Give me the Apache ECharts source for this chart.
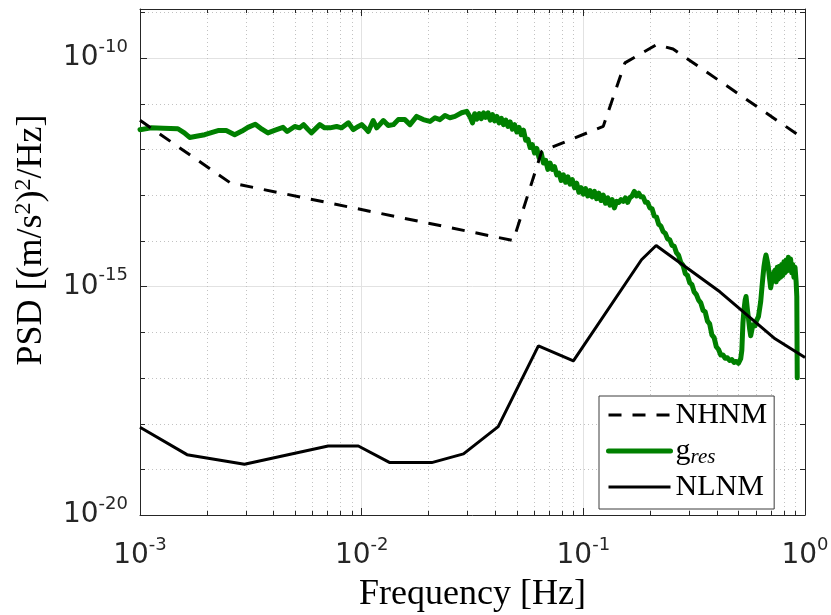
<!DOCTYPE html>
<html><head><meta charset="utf-8">
<script src="https://cdn.jsdelivr.net/npm/echarts@6/dist/echarts.min.js"></script>
<style>html,body{margin:0;padding:0;background:#fff}#c{width:831px;height:615px}</style>
</head><body><div id="c"></div>
<script>
// ---------------- data ----------------
const xRange = [1e-3, 1];
const yRange = [1e-20, Math.pow(10, -8.93)];
const xTickValues = [1e-3, 1e-2, 1e-1, 1];
const yTickValues = [1e-20, 1e-15, 1e-10];
const xMinorTicks = [2e-3,3e-3,4e-3,5e-3,6e-3,7e-3,8e-3,9e-3,2e-2,3e-2,4e-2,5e-2,6e-2,7e-2,8e-2,9e-2,2e-1,3e-1,4e-1,5e-1,6e-1,7e-1,8e-1,9e-1];
const yMinorTicks = [1e-19,1e-18,1e-17,1e-16,1e-14,1e-13,1e-12,1e-11,1e-9];

// New High Noise Model
const nhnmFreq = [1e-3, 2.55e-3, 4.83e-2, 6.49e-2, 1.23e-1, 1.54e-1, 2.14e-1, 2.54e-1, 1];
const nhnmPsd  = [4.31e-12, 1.86e-13, 1.01e-14, 9.02e-13, 3.18e-12, 7.78e-11, 1.95e-10, 1.57e-10, 1.63e-12];

// New Low Noise Model
const nlnmFreq = [1e-3, 1.63e-3, 2.96e-3, 7.06e-3, 9.66e-3, 1.34e-2, 2.07e-2, 2.88e-2, 4.13e-2, 6.27e-2, 9.02e-2, 1.83e-1, 2.13e-1, 4.13e-1, 7.33e-1, 1];
const nlnmPsd  = [8.32e-19, 2.09e-19, 1.29e-19, 3.24e-19, 3.24e-19, 1.40e-19, 1.40e-19, 2.17e-19, 8.57e-19, 5.01e-17, 2.36e-17, 3.84e-15, 7.89e-15, 7.64e-16, 7.14e-17, 2.78e-17];

// g_res PSD, pairs of [log10(frequency / Hz), log10(PSD)]
const gresLog10 = [
[-3.000,-11.57],[-2.950,-11.53],[-2.896,-11.54],[-2.829,-11.55],[-2.800,-11.64],[-2.776,-11.74],[-2.740,-11.71],[-2.708,-11.68],
[-2.648,-11.59],[-2.611,-11.59],[-2.573,-11.68],[-2.540,-11.60],[-2.513,-11.52],[-2.480,-11.45],[-2.450,-11.56],[-2.423,-11.64],
[-2.390,-11.58],[-2.355,-11.52],[-2.336,-11.61],[-2.302,-11.50],[-2.280,-11.53],[-2.262,-11.46],[-2.245,-11.55],[-2.227,-11.64],
[-2.189,-11.46],[-2.167,-11.53],[-2.143,-11.53],[-2.113,-11.50],[-2.090,-11.53],[-2.060,-11.42],[-2.038,-11.57],[-2.015,-11.50],
[-2.000,-11.46],[-1.985,-11.53],[-1.970,-11.61],[-1.948,-11.37],[-1.932,-11.53],[-1.902,-11.37],[-1.880,-11.48],[-1.857,-11.46],
[-1.835,-11.35],[-1.805,-11.35],[-1.782,-11.46],[-1.752,-11.28],[-1.722,-11.35],[-1.692,-11.39],[-1.669,-11.31],[-1.647,-11.35],
[-1.624,-11.26],[-1.602,-11.31],[-1.579,-11.28],[-1.549,-11.20],[-1.526,-11.17],[-1.510,-11.30],
[-1.50,-11.42],[-1.49,-11.22],[-1.48,-11.34],[-1.47,-11.22],[-1.46,-11.33],[-1.45,-11.20],[-1.44,-11.30],[-1.43,-11.20],
[-1.42,-11.36],[-1.41,-11.24],[-1.40,-11.38],[-1.39,-11.28],[-1.38,-11.42],[-1.37,-11.32],[-1.36,-11.46],[-1.35,-11.36],
[-1.34,-11.50],[-1.33,-11.40],[-1.32,-11.56],[-1.31,-11.46],[-1.30,-11.62],[-1.29,-11.52],[-1.28,-11.68],[-1.27,-11.58],
[-1.26,-11.80],[-1.25,-11.78],[-1.24,-11.96],[-1.23,-11.90],[-1.22,-12.08],[-1.21,-11.98],[-1.20,-12.18],[-1.19,-12.08],
[-1.18,-12.30],[-1.17,-12.24],[-1.16,-12.44],[-1.15,-12.30],[-1.14,-12.44],[-1.13,-12.38],[-1.12,-12.56],[-1.11,-12.52],
[-1.10,-12.68],[-1.09,-12.56],[-1.08,-12.72],[-1.07,-12.60],[-1.06,-12.76],[-1.05,-12.66],[-1.04,-12.84],[-1.03,-12.74],
[-1.02,-12.94],[-1.01,-12.84],[-1.00,-12.98],[-0.99,-12.86],[-0.98,-13.02],[-0.97,-12.90],[-0.96,-13.04],[-0.95,-12.92],
[-0.94,-13.08],[-0.93,-12.96],[-0.92,-13.12],[-0.91,-13.00],[-0.90,-13.18],[-0.89,-13.06],[-0.88,-13.22],[-0.87,-13.10],
[-0.86,-13.28],[-0.85,-13.14],[-0.84,-13.16],[-0.83,-13.10],[-0.82,-13.14],[-0.81,-13.06],[-0.80,-13.16],[-0.79,-13.06],
[-0.78,-13.02],[-0.77,-12.92],[-0.76,-13.02],[-0.75,-12.96],[-0.74,-13.04],[-0.73,-13.04],[-0.72,-13.16],[-0.71,-13.16],
[-0.70,-13.28],[-0.69,-13.30],[-0.68,-13.46],[-0.67,-13.48],[-0.66,-13.64],[-0.65,-13.68],[-0.64,-13.80],[-0.63,-13.84],
[-0.62,-13.96],[-0.61,-13.98],[-0.60,-14.10],[-0.59,-14.12],[-0.58,-14.26],[-0.57,-14.32],[-0.56,-14.48],[-0.55,-14.54],
[-0.54,-14.72],[-0.53,-14.76],[-0.52,-14.92],[-0.51,-14.96],[-0.50,-15.12],[-0.49,-15.18],[-0.48,-15.30],[-0.47,-15.36],
[-0.46,-15.52],[-0.45,-15.56],[-0.44,-15.76],[-0.43,-15.82],[-0.42,-16.06],[-0.41,-16.12],[-0.40,-16.32],[-0.39,-16.38],
[-0.38,-16.50],[-0.37,-16.50],[-0.36,-16.57],[-0.35,-16.56],[-0.34,-16.62],[-0.33,-16.60],[-0.32,-16.66],[-0.31,-16.64],
[-0.30,-16.68],[-0.295,-16.66],[-0.29,-16.58],[-0.285,-16.40],[-0.28,-15.80],[-0.275,-15.50],[-0.27,-15.30],[-0.266,-15.22],
[-0.26,-15.50],[-0.255,-15.70],[-0.25,-15.92],[-0.245,-16.08],[-0.24,-15.96],[-0.235,-15.84],[-0.23,-15.80],[-0.225,-15.86],
[-0.22,-15.76],[-0.215,-15.72],[-0.21,-15.66],[-0.205,-15.62],[-0.20,-15.34],[-0.195,-15.06],[-0.19,-14.80],[-0.185,-14.56],
[-0.18,-14.40],[-0.176,-14.31],[-0.17,-14.45],[-0.166,-14.56],[-0.16,-14.82],[-0.155,-15.03],[-0.15,-14.90],[-0.145,-14.74],
[-0.14,-14.70],[-0.135,-14.64],[-0.13,-14.90],[-0.125,-14.58],[-0.12,-14.84],[-0.115,-14.56],[-0.11,-14.80],[-0.105,-14.52],
[-0.10,-14.76],[-0.095,-14.46],[-0.09,-14.70],[-0.085,-14.42],[-0.08,-14.66],[-0.075,-14.36],[-0.07,-14.60],[-0.065,-14.40],
[-0.06,-14.70],[-0.055,-14.52],[-0.05,-14.80],[-0.045,-14.58],[-0.04,-14.90],[-0.037,-15.22],[-0.035,-17.00]
];

// ---------------- chart ----------------
const AX = '#262626';
const GREEN = '#008000';
const pairs = (fs, ps) => fs.map((f, i) => [f, ps[i]]);
const gresData = gresLog10.map(p => [Math.pow(10, p[0]), Math.pow(10, p[1])]);

const labelRich = {
  b: {fontFamily: 'DejaVu Sans', fontSize: 28, lineHeight: 40, color: AX},
  s: {fontFamily: 'DejaVu Sans', fontSize: 18, lineHeight: 22, verticalAlign: 'top', color: AX}
};
function powLabel(allowed) {
  return function (v) {
    const e = Math.log10(v), n = Math.round(e);
    if (Math.abs(e - n) > 1e-6) return '';
    if (!allowed.some(t => Math.abs(Math.log10(t) - n) < 1e-6)) return '';
    return '{b|10}{s|' + n + '}';
  };
}

const chart = echarts.init(document.getElementById('c'), null, {renderer: 'canvas'});
chart.setOption({
  animation: false,
  backgroundColor: '#fff',
  grid: {left: 140, right: 26, top: 9, bottom: 100, containLabel: false, outerBoundsMode: 'none'},
  legend: {
    data: [
      {name: 'NHNM', lineStyle: {color: '#000', width: 3, type: [13, 11]}},
      {name: 'gres', lineStyle: {color: GREEN, width: 5}},
      {name: 'NLNM', lineStyle: {color: '#000', width: 3}}
    ],
    orient: 'vertical', left: 599, top: 396,
    itemWidth: 62, itemHeight: 14, itemGap: 2,
    padding: [2, 7, 5, 7],
    borderColor: '#3c3c3c', borderWidth: 1, backgroundColor: '#fff',
    selectedMode: false,
    itemStyle: {color: 'rgba(0,0,0,0)', borderWidth: 0, opacity: 0},
    formatter: name => name === 'gres' ? '{g|g}{s|res}' : name,
    textStyle: {
      fontFamily: 'Liberation Serif', fontSize: 30, lineHeight: 34, color: '#000',
      rich: {
        g: {fontFamily: 'Liberation Serif', fontSize: 30, lineHeight: 34, color: '#000'},
        s: {fontFamily: 'Liberation Serif', fontStyle: 'italic', fontSize: 21, lineHeight: 20, verticalAlign: 'bottom', color: '#000'}
      }
    }
  },
  xAxis: [{
    type: 'log', logBase: 10, min: xRange[0], max: xRange[1], position: 'bottom',
    axisLine: {show: true, lineStyle: {color: AX, width: 1}},
    axisTick: {show: true, inside: true, length: 7, lineStyle: {color: AX}},
    axisLabel: {margin: 21, formatter: powLabel(xTickValues), rich: labelRich},
    splitLine: {show: true, lineStyle: {color: '#e2e2e2', width: 1}},
    name: 'Frequency [Hz]', nameLocation: 'middle', nameGap: 56,
    nameTextStyle: {fontFamily: 'Liberation Serif', fontSize: 36, lineHeight: 40, color: '#000'}
  }, {
    type: 'log', logBase: 10, min: xRange[0], max: xRange[1], position: 'top',
    axisLine: {show: true, lineStyle: {color: AX, width: 1}},
    axisTick: {show: true, inside: true, length: 7, lineStyle: {color: AX}},
    axisLabel: {show: false}, splitLine: {show: false}
  }],
  yAxis: [{
    type: 'log', logBase: 10, min: yRange[0], max: yRange[1], interval: 5, position: 'left',
    axisLine: {show: true, lineStyle: {color: AX, width: 1}},
    axisTick: {show: true, inside: true, length: 7, lineStyle: {color: AX}},
    axisLabel: {margin: 12, formatter: powLabel(yTickValues), rich: labelRich},
    splitLine: {show: true, lineStyle: {color: '#e2e2e2', width: 1}},
    name: '{a|PSD [(m/s}{s|2}{a|)}{s|2}{a|/Hz]}',
    nameLocation: 'middle', nameGap: 88, nameRotate: 90,
    nameTextStyle: {
      padding: [0, 0, 0, 44],
      rich: {
        a: {fontFamily: 'Liberation Serif', fontSize: 36, lineHeight: 40, color: '#000'},
        s: {fontFamily: 'Liberation Serif', fontSize: 24, lineHeight: 24, verticalAlign: 'top', color: '#000'}
      }
    }
  }, {
    type: 'log', logBase: 10, min: yRange[0], max: yRange[1], interval: 5, position: 'right',
    axisLine: {show: true, lineStyle: {color: AX, width: 1}},
    axisTick: {show: true, inside: true, length: 7, lineStyle: {color: AX}},
    axisLabel: {show: false}, splitLine: {show: false}
  }],
  series: [{
    type: 'custom', name: 'xMinorGrid', silent: true, z: 1,
    xAxisIndex: 0, yAxisIndex: 0,
    data: xMinorTicks.map(v => [v, yRange[0]]),
    renderItem: function (params, api) {
      const p0 = api.coord([api.value(0), yRange[0]]);
      const p1 = api.coord([api.value(0), yRange[1]]);
      const x = Math.round(p0[0]) + 0.5;
      return {type: 'group', children: [
        {type: 'line', shape: {x1: x, y1: p0[1], x2: x, y2: p1[1]}, style: {stroke: '#c2c2c2', lineWidth: 1, lineDash: [1, 3]}},
        {type: 'line', shape: {x1: x, y1: p0[1], x2: x, y2: p0[1] - 4}, style: {stroke: AX, lineWidth: 1}},
        {type: 'line', shape: {x1: x, y1: p1[1], x2: x, y2: p1[1] + 4}, style: {stroke: AX, lineWidth: 1}}
      ]};
    }
  }, {
    type: 'custom', name: 'yMinorGrid', silent: true, z: 1,
    xAxisIndex: 0, yAxisIndex: 0,
    data: yMinorTicks.map(v => [xRange[0], v]),
    renderItem: function (params, api) {
      const p0 = api.coord([xRange[0], api.value(1)]);
      const p1 = api.coord([xRange[1], api.value(1)]);
      const y = Math.round(p0[1]) + 0.5;
      return {type: 'group', children: [
        {type: 'line', shape: {x1: p0[0], y1: y, x2: p1[0], y2: y}, style: {stroke: '#c2c2c2', lineWidth: 1, lineDash: [1, 3]}},
        {type: 'line', shape: {x1: p0[0], y1: y, x2: p0[0] + 5, y2: y}, style: {stroke: AX, lineWidth: 1}},
        {type: 'line', shape: {x1: p1[0], y1: y, x2: p1[0] - 5, y2: y}, style: {stroke: AX, lineWidth: 1}}
      ]};
    }
  }, {
    type: 'line', name: 'gres', data: gresData, symbol: 'none', z: 3,
    lineStyle: {color: GREEN, width: 5, join: 'round', cap: 'round'},
    itemStyle: {color: GREEN}
  }, {
    type: 'line', name: 'NHNM', data: pairs(nhnmFreq, nhnmPsd), symbol: 'none', z: 4,
    lineStyle: {color: '#000', width: 3, type: [13, 11]},
    itemStyle: {color: '#000'}
  }, {
    type: 'line', name: 'NLNM', data: pairs(nlnmFreq, nlnmPsd), symbol: 'none', z: 4,
    lineStyle: {color: '#000', width: 3},
    itemStyle: {color: '#000'}
  }]
});
</script>
</body></html>
